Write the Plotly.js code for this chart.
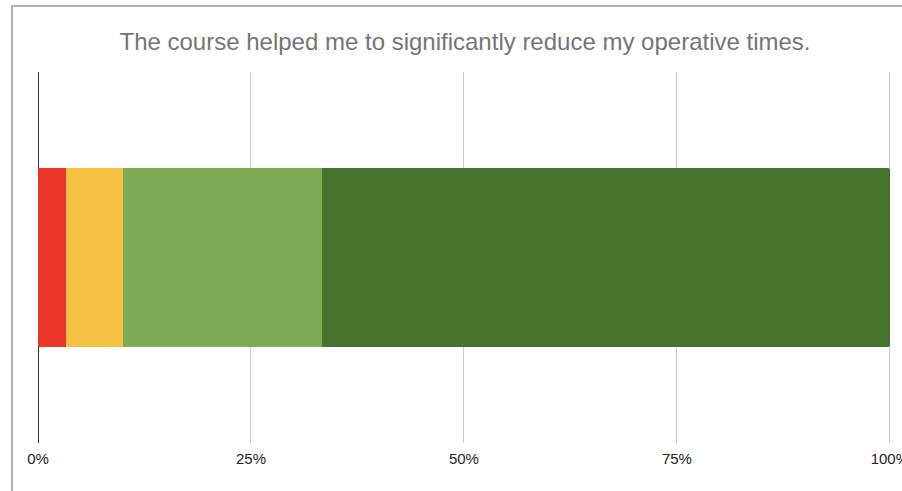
<!DOCTYPE html>
<html>
<head>
<meta charset="utf-8">
<script src="https://cdn.plot.ly/plotly-3.0.1.min.js"></script>
<style>
  html, body { margin: 0; padding: 0; background: #fff; }
  #chart { width: 902px; height: 491px; }
  #frame { position: absolute; left: 11px; top: 5px; width: 900px; height: 500px;
           border-left: 2px solid #b0b0b0; border-top: 2px solid #b0b0b0; pointer-events: none; }
</style>
</head>
<body>
<div id="chart"></div>
<div id="frame"></div>
<script>
const categories = ["The course helped me to significantly reduce my operative times."];
const seriesNames = ["Strongly disagree", "Disagree", "Agree", "Strongly agree"];
const seriesValues = [1, 2, 7, 20];
const seriesColors = ["#e93629", "#f4c144", "#7eaa55", "#46742c"];
const tickValues = [0, 25, 50, 75, 100];
const tickLabels = ["0%", "25%", "50%", "75%", "100%"];

const traces = seriesNames.map((name, i) => ({
  type: "bar",
  orientation: "h",
  name: name,
  y: [categories[0]],
  x: [seriesValues[i]],
  marker: { color: seriesColors[i], line: { width: 0 } },
  hoverinfo: "name+x"
}));

const layout = {
  width: 902,
  height: 491,
  margin: { l: 38, r: 10, t: 72, b: 48 },
  paper_bgcolor: "#ffffff",
  plot_bgcolor: "#ffffff",
  barmode: "stack",
  barnorm: "percent",
  bargap: 0.517,
  barcornerradius: 3,
  showlegend: false,
  title: {
    text: categories[0],
    font: { family: "Liberation Sans, Arial, sans-serif", size: 24, color: "#757575" },
    x: 0.5, xref: "paper", xanchor: "center",
    y: 1, yref: "container", yanchor: "top", pad: { t: 33 }
  },
  xaxis: {
    range: [0, 100.25],
    tickvals: tickValues,
    ticktext: tickLabels,
    showgrid: true,
    gridcolor: "#cccccc",
    gridwidth: 1,
    zeroline: true,
    zerolinecolor: "#333333",
    zerolinewidth: 1,
    showline: false,
    ticks: "outside",
    ticklen: 2,
    tickcolor: "rgba(0,0,0,0)",
    ticklabeloverflow: "allow",
    tickfont: { family: "Liberation Sans, Arial, sans-serif", size: 15, color: "#222222" },
    fixedrange: true
  },
  yaxis: {
    visible: false,
    showgrid: false,
    zeroline: false,
    fixedrange: true
  }
};

Plotly.newPlot("chart", traces, layout, { displayModeBar: false, staticPlot: true });
</script>
</body>
</html>
